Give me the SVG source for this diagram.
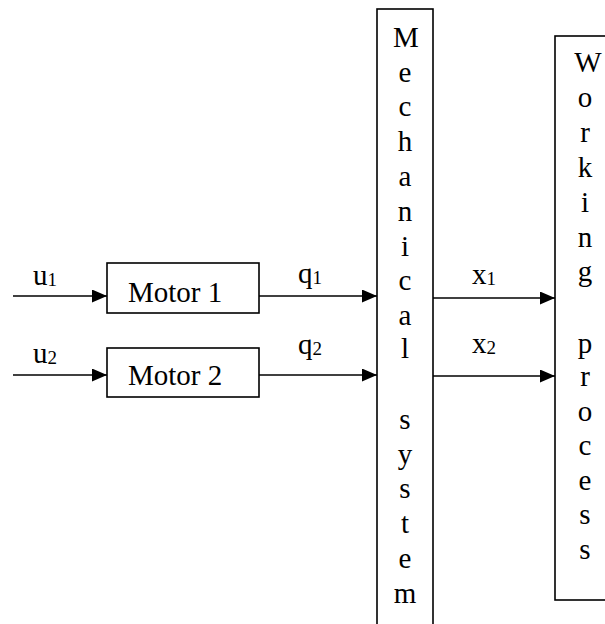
<svg xmlns="http://www.w3.org/2000/svg" width="605" height="624" viewBox="0 0 605 624">
<style>
.box{fill:#fff;stroke:#000;stroke-width:1.6}
.ln{stroke:#000;stroke-width:1.5;fill:none}
text{font-family:"Liberation Serif","Times New Roman",serif;font-size:29px;fill:#000}
.sub{font-size:19px}
.v{text-anchor:middle}
</style>
<defs>
<marker id="ar" markerWidth="15" markerHeight="13" refX="15" refY="6.5" orient="auto" markerUnits="userSpaceOnUse">
<path d="M0,0 L15,6.5 L0,13 Z" fill="#000"/>
</marker>
</defs>
<rect width="605" height="624" fill="#fff"/>
<g id="connectors">
<line class="ln" x1="13" y1="296" x2="107" y2="296" marker-end="url(#ar)"/>
<line class="ln" x1="13" y1="375" x2="107" y2="375" marker-end="url(#ar)"/>
<line class="ln" x1="259" y1="296" x2="377" y2="296" marker-end="url(#ar)"/>
<line class="ln" x1="259" y1="375" x2="377" y2="375" marker-end="url(#ar)"/>
<line class="ln" x1="433" y1="298" x2="555" y2="298" marker-end="url(#ar)"/>
<line class="ln" x1="433" y1="376" x2="555" y2="376" marker-end="url(#ar)"/>
<text x="33" y="285">u<tspan class="sub" dy="1">1</tspan></text>
<text x="33" y="363">u<tspan class="sub" dy="1">2</tspan></text>
<text x="298" y="283">q<tspan class="sub" dy="1">1</tspan></text>
<text x="298" y="354">q<tspan class="sub" dy="1">2</tspan></text>
<text x="472" y="284">x<tspan class="sub" dy="1">1</tspan></text>
<text x="472" y="353">x<tspan class="sub" dy="1">2</tspan></text>
</g>
<g id="motor1">
<rect class="box" x="107" y="263" width="152" height="50"/>
<text x="175" y="302" class="v">Motor 1</text>
</g>
<g id="motor2">
<rect class="box" x="107" y="348" width="152" height="49"/>
<text x="175" y="385" class="v">Motor 2</text>
</g>
<g id="mechanical">
<rect class="box" x="377" y="9" width="56" height="630"/>
<g class="v">
<text x="406" y="47">M</text>
<text x="405" y="82">e</text>
<text x="405" y="116">c</text>
<text x="405" y="151">h</text>
<text x="405" y="186">a</text>
<text x="405" y="221">n</text>
<text x="405" y="256">i</text>
<text x="405" y="290">c</text>
<text x="405" y="325">a</text>
<text x="405" y="358">l</text>
<text x="405" y="429">s</text>
<text x="405" y="464">y</text>
<text x="405" y="498">s</text>
<text x="405" y="533">t</text>
<text x="405" y="568">e</text>
<text x="405" y="603">m</text>
</g>
</g>
<g id="working">
<rect class="box" x="555" y="36" width="70" height="564"/>
<g class="v">
<text x="588" y="72">W</text>
<text x="585" y="107">o</text>
<text x="585" y="142">r</text>
<text x="585" y="177">k</text>
<text x="585" y="212">i</text>
<text x="585" y="247">n</text>
<text x="585" y="281">g</text>
<text x="585" y="353">p</text>
<text x="585" y="386">r</text>
<text x="585" y="421">o</text>
<text x="585" y="455">c</text>
<text x="585" y="490">e</text>
<text x="585" y="524">s</text>
<text x="585" y="559">s</text>
</g>
</g>
</svg>
